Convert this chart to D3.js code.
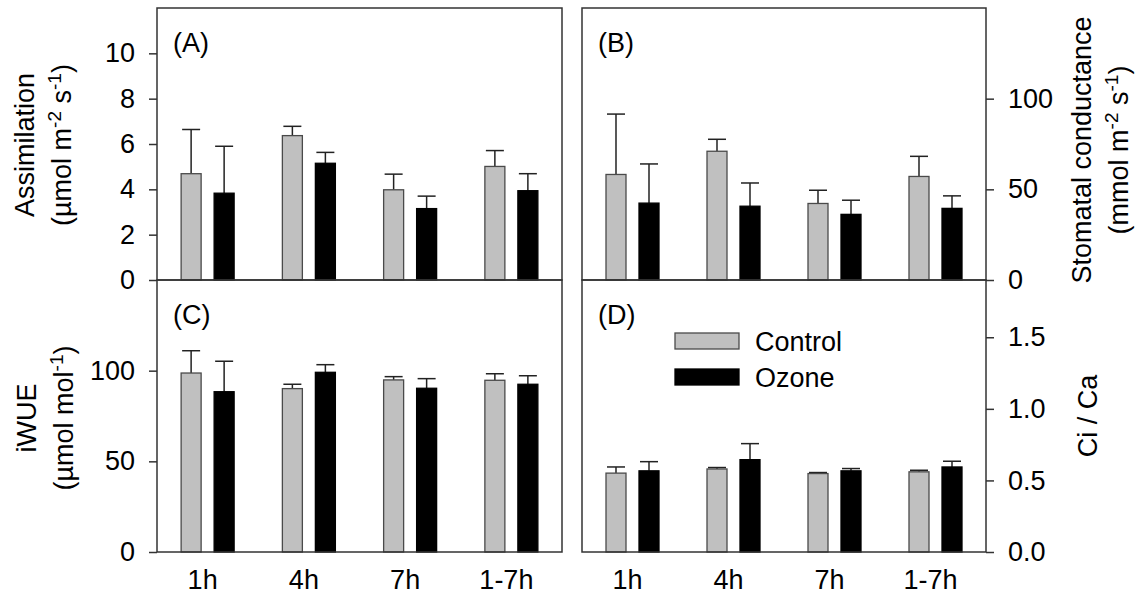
<!DOCTYPE html>
<html>
<head>
<meta charset="utf-8">
<script src="https://cdn.jsdelivr.net/npm/d3@7"></script>
<style>
  body { margin: 0; background: #fff; }
  svg text { font-family: "Liberation Sans", Arial, sans-serif; fill: #000; }
</style>
</head>
<body>
<svg id="chart" width="1137" height="594"></svg>
<script>
//categories and groups
const categories = ["1h", "4h", "7h", "1-7h"];
const groups = ["Control", "Ozone"];

//(A) assimilation, mean and upper error
const assimControl = [4.69, 6.37, 3.98, 5.01];
const assimControlErr = [1.95, 0.41, 0.69, 0.70];
const assimOzone = [3.83, 5.15, 3.15, 3.94];
const assimOzoneErr = [2.07, 0.48, 0.55, 0.75];

//(B) stomatal conductance
const condControl = [58.2, 71.0, 42.2, 57.1];
const condControlErr = [33.3, 6.6, 7.3, 11.1];
const condOzone = [42.4, 40.7, 36.2, 39.5];
const condOzoneErr = [21.6, 12.8, 7.8, 6.9];

//(C) iWUE
const wueControl = [98.7, 90.1, 94.9, 94.7];
const wueControlErr = [12.3, 2.4, 1.8, 3.6];
const wueOzone = [88.4, 99.1, 90.3, 92.5];
const wueOzoneErr = [16.8, 4.2, 5.3, 4.7];

//(D) Ci / Ca
const ciControl = [0.551, 0.580, 0.548, 0.560];
const ciControlErr = [0.043, 0.010, 0.007, 0.011];
const ciOzone = [0.567, 0.645, 0.567, 0.594];
const ciOzoneErr = [0.064, 0.112, 0.016, 0.040];

//tick values for each panel
const ticksA = [0, 2, 4, 6, 8, 10];
const ticksB = [0, 50, 100];
const ticksC = [0, 50, 100];
const ticksD = [0, 0.5, 1.0, 1.5];

const colors = { Control: "#c0c0c0", Ozone: "#000000" };
const strokes = { Control: "#4a4a4a", Ozone: "#000000" };
const lineColor = "#333";
const fontSize = 27;

const svg = d3.select("#chart");

//panel layout
const panels = [
    { id: "(A)", x: 157, y: 8, w: 405, h: 272, max: 12, ticks: ticksA, side: "left", fmt: d3.format("d"),
      control: assimControl, controlErr: assimControlErr, ozone: assimOzone, ozoneErr: assimOzoneErr, xLabels: false },
    { id: "(B)", x: 582, y: 8, w: 404, h: 272, max: 150, ticks: ticksB, side: "right", fmt: d3.format("d"),
      control: condControl, controlErr: condControlErr, ozone: condOzone, ozoneErr: condOzoneErr, xLabels: false },
    { id: "(C)", x: 157, y: 280, w: 405, h: 272, max: 150, ticks: ticksC, side: "left", fmt: d3.format("d"),
      control: wueControl, controlErr: wueControlErr, ozone: wueOzone, ozoneErr: wueOzoneErr, xLabels: true },
    { id: "(D)", x: 582, y: 280, w: 404, h: 272, max: 1.9, ticks: ticksD, side: "right", fmt: d3.format(".1f"),
      control: ciControl, controlErr: ciControlErr, ozone: ciOzone, ozoneErr: ciOzoneErr, xLabels: true }
];

panels.forEach(p => {
    const g = svg.append("g").attr("transform", `translate(${p.x},${p.y})`);

    const x = d3.scaleBand().domain(categories).range([0, p.w]);
    const xInner = d3.scaleBand().domain(groups).range([0, 53]).paddingInner(0.394);
    const y = d3.scaleLinear().domain([0, p.max]).range([p.h, 0]);

    //build rows for bars
    const rows = [];
    categories.forEach((c, i) => {
        rows.push({ cat: c, grp: "Control", v: p.control[i], e: p.controlErr[i] });
        rows.push({ cat: c, grp: "Ozone", v: p.ozone[i], e: p.ozoneErr[i] });
    });
    const barX = d => x(d.cat) + x.bandwidth() / 2 - 26.5 + xInner(d.grp);
    const barMid = d => barX(d) + xInner.bandwidth() / 2;

    //error bars (upper only)
    const eb = g.selectAll(".err").data(rows).join("g").attr("class", "err");
    eb.append("line")
        .attr("x1", barMid).attr("x2", barMid)
        .attr("y1", d => y(d.v))
        .attr("y2", d => y(d.v + d.e))
        .attr("stroke", "#222").attr("stroke-width", 1.5);
    eb.append("line")
        .attr("x1", d => barMid(d) - 9)
        .attr("x2", d => barMid(d) + 9)
        .attr("y1", d => y(d.v + d.e))
        .attr("y2", d => y(d.v + d.e))
        .attr("stroke", "#222").attr("stroke-width", 1.5);

    //bars
    g.selectAll(".bar").data(rows).join("rect").attr("class", "bar")
        .attr("x", d => barX(d))
        .attr("y", d => y(d.v))
        .attr("width", xInner.bandwidth())
        .attr("height", d => p.h - y(d.v))
        .attr("fill", d => colors[d.grp])
        .attr("stroke", d => strokes[d.grp])
        .attr("stroke-width", 1.3);

    //frame
    g.append("rect")
        .attr("width", p.w).attr("height", p.h)
        .attr("fill", "none").attr("stroke", lineColor).attr("stroke-width", 1.5);

    //y axis
    const axis = (p.side === "left" ? d3.axisLeft(y) : d3.axisRight(y))
        .tickValues(p.ticks).tickFormat(p.fmt)
        .tickSize(8).tickPadding(14);
    const ax = g.append("g")
        .attr("transform", p.side === "left" ? null : `translate(${p.w},0)`)
        .call(axis);
    ax.select(".domain").remove();
    ax.selectAll("line").attr("stroke", lineColor).attr("stroke-width", 1.5);
    ax.selectAll("text").style("font-size", fontSize + "px")
        .style("font-family", "'Liberation Sans', Arial, sans-serif").attr("fill", "#000");

    //x axis labels
    if (p.xLabels) {
        const xa = g.append("g").attr("transform", `translate(0,${p.h})`)
            .call(d3.axisBottom(x).tickSize(0).tickPadding(18));
        xa.select(".domain").remove();
        xa.selectAll("text").attr("dx", -5).style("font-size", fontSize + "px")
            .style("font-family", "'Liberation Sans', Arial, sans-serif").attr("fill", "#000");
    }

    //panel letter
    g.append("text").attr("x", 16).attr("y", 44)
        .style("font-size", fontSize + "px").text(p.id);
});

//legend in panel D
const legend = svg.append("g").attr("transform", "translate(675,333)");
groups.forEach((grp, i) => {
    legend.append("rect")
        .attr("x", 0).attr("y", i * 36)
        .attr("width", 64).attr("height", 16)
        .attr("fill", colors[grp]).attr("stroke", strokes[grp]).attr("stroke-width", 1.3);
    legend.append("text")
        .attr("x", 80).attr("y", i * 36 + 8).attr("dy", "0.36em")
        .style("font-size", fontSize + "px").text(grp);
});

//axis titles (rotated), with superscripts
function title(x, y, parts) {
    const t = svg.append("text")
        .attr("transform", `translate(${x},${y}) rotate(-90)`)
        .attr("text-anchor", "middle")
        .style("font-size", fontSize + "px");
    let shift = 0;
    parts.forEach(part => {
        if (typeof part === "string") {
            t.append("tspan").attr("dy", shift).text(part);
            shift = 0;
        } else {
            t.append("tspan").attr("dy", shift - 10).style("font-size", "19px").text(part.sup);
            shift = 10;
        }
    });
}
title(34, 145, ["Assimilation"]);
title(71, 145, ["(\u00b5mol m", { sup: "-2" }, " s", { sup: "-1" }, ")"]);
title(36, 418, ["iWUE"]);
title(73, 418, ["(\u00b5mol mol", { sup: "-1" }, ")"]);
title(1091, 150, ["Stomatal conductance"]);
title(1128, 150, ["(mmol m", { sup: "-2" }, " s", { sup: "-1" }, ")"]);
title(1097, 416, ["Ci / Ca"]);
</script>
</body>
</html>
